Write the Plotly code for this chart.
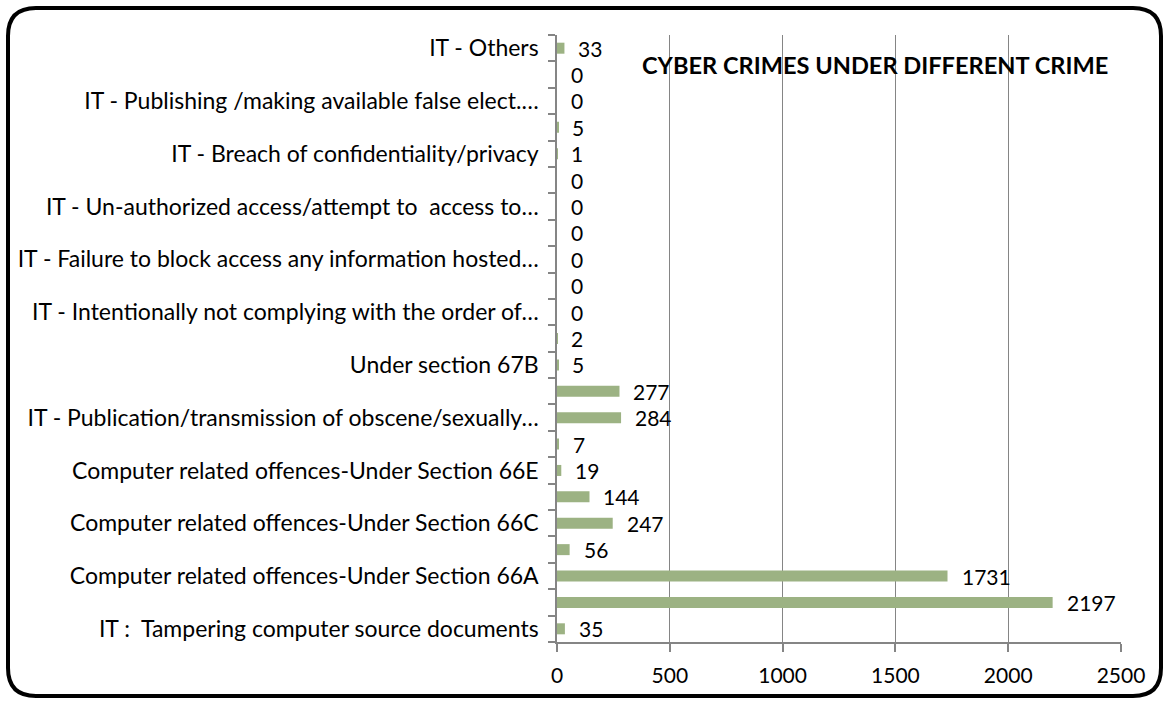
import plotly.graph_objects as go

# ---------------- data (bottom to top, as drawn) ----------------
categories = [
    "IT : Tampering computer source documents",
    "Computer related offences-Under Section 66",
    "Computer related offences-Under Section 66A",
    "Computer related offences-Under Section 66B",
    "Computer related offences-Under Section 66C",
    "Computer related offences-Under Section 66D",
    "Computer related offences-Under Section 66E",
    "Computer related offences-Under Section 66F",
    "IT - Publication/transmission of obscene/sexually explicit content",
    "Under section 67A",
    "Under section 67B",
    "Under section 67C",
    "IT - Intentionally not complying with the order of controller",
    "IT - Failure to assist in decrypting the information",
    "IT - Failure to block access any information hosted",
    "IT - Not providing information called for by the Controller",
    "IT - Un-authorized access/attempt to access to protected computer system",
    "IT - Misrepresentation/suppression of fact for obtaining license",
    "IT - Breach of confidentiality/privacy",
    "IT - Disclosure of information in breach of lawful contract",
    "IT - Publishing /making available false elect. signature certificate",
    "IT - Create/publish electronic signature certificate for unlawful purposes",
    "IT - Others",
]
values = [35, 2197, 1731, 56, 247, 144, 19, 7, 284, 277, 5, 2,
          0, 0, 0, 0, 0, 0, 1, 5, 0, 0, 33]
# axis labels as shown (every other category is left blank)
tick_labels = [
    "IT :\u00a0\u00a0Tampering computer source documents", "",
    "Computer related offences-Under Section 66A", "",
    "Computer related offences-Under Section 66C", "",
    "Computer related offences-Under Section 66E", "",
    "IT - Publication/transmission of obscene/sexually\u2026", "",
    "Under section 67B", "",
    "IT - Intentionally not complying with the order of\u2026", "",
    "IT - Failure to block access any information hosted\u2026", "",
    "IT - Un-authorized access/attempt to\u00a0\u00a0access to\u2026", "",
    "IT - Breach of confidentiality/privacy", "",
    "IT - Publishing /making available false elect.\u2026", "",
    "IT - Others",
]
x_ticks = [0, 500, 1000, 1500, 2000, 2500]
title_text = "CYBER CRIMES UNDER DIFFERENT CRIME"

# ---------------- styling ----------------
FIG_W, FIG_H = 1167, 702
M_L, M_R, M_T, M_B = 557, 46, 35, 60
PW = FIG_W - M_L - M_R
PH = FIG_H - M_T - M_B
BAR_COLOR = "#9cb283"
AXIS_COLOR = "#858585"
FONT = "Lato"
FS_NUM = 21
FS_CAT = 23


def to_paper(px, py):
    return (px - M_L) / PW, (FIG_H - M_B - py) / PH


fig = go.Figure()
fig.add_trace(go.Bar(
    y=categories, x=values, orientation="h",
    marker=dict(color=BAR_COLOR, line=dict(width=0)),
    hovertemplate="%{y}: %{x}<extra></extra>",
))

for cat, v in zip(categories, values):
    fig.add_annotation(
        x=v, y=cat, text=str(v), showarrow=False,
        xanchor="left", yanchor="middle", xshift=12,
        font=dict(family=FONT, size=FS_NUM, color="#000000"),
    )

fig.add_annotation(
    xref="paper", yref="paper",
    x=to_paper(875, 0)[0], y=to_paper(0, 65)[1],
    text="<b>%s</b>" % title_text, showarrow=False,
    xanchor="center", yanchor="middle",
    font=dict(family=FONT, size=23.6, color="#000000"),
)

# rounded outer border
x0, y0, x1, y1, r = 8, 8, 1161, 696, 28
pts = [("M", [(x0 + r, y0)]), ("L", [(x1 - r, y0)]), ("Q", [(x1, y0), (x1, y0 + r)]),
       ("L", [(x1, y1 - r)]), ("Q", [(x1, y1), (x1 - r, y1)]),
       ("L", [(x0 + r, y1)]), ("Q", [(x0, y1), (x0, y1 - r)]),
       ("L", [(x0, y0 + r)]), ("Q", [(x0, y0), (x0 + r, y0)])]
path = ""
for cmd, plist in pts:
    path += cmd + " " + " ".join("%.5f,%.5f" % to_paper(px, py) for px, py in plist) + " "
path += "Z"
fig.add_shape(type="path", path=path, xref="paper", yref="paper",
              line=dict(color="#000000", width=4), fillcolor="rgba(0,0,0,0)")

fig.update_layout(
    width=FIG_W, height=FIG_H,
    margin=dict(l=M_L, r=M_R, t=M_T, b=M_B, pad=0),
    paper_bgcolor="#ffffff", plot_bgcolor="#ffffff",
    showlegend=False, bargap=0.583,
    font=dict(family=FONT, size=FS_NUM, color="#000000"),
    xaxis=dict(
        range=[0, 2500], tickmode="array", tickvals=x_ticks,
        showgrid=True, gridcolor=AXIS_COLOR, gridwidth=1.4,
        zeroline=False, showline=True, linecolor=AXIS_COLOR, linewidth=1.5,
        ticks="outside", ticklen=8, tickcolor=AXIS_COLOR, tickwidth=1.5,
        tickfont=dict(family=FONT, size=FS_NUM, color="#000000"),
        ticklabelstandoff=6,
    ),
    yaxis=dict(
        type="category", categoryorder="array", categoryarray=categories,
        range=[-0.5, len(categories) - 0.5],
        tickmode="array", tickvals=categories, ticktext=tick_labels,
        tickson="boundaries", ticks="outside", ticklen=7,
        tickcolor=AXIS_COLOR, tickwidth=1.5,
        showgrid=False, zeroline=False,
        showline=True, linecolor=AXIS_COLOR, linewidth=1.5,
        tickfont=dict(family=FONT, size=FS_CAT, color="#000000"),
        ticklabelstandoff=12,
    ),
)

fig.write_html(
    "out.html",
    config={"displayModeBar": False},
    post_script="document.body.style.margin='0';document.body.style.overflow='hidden';",
)
